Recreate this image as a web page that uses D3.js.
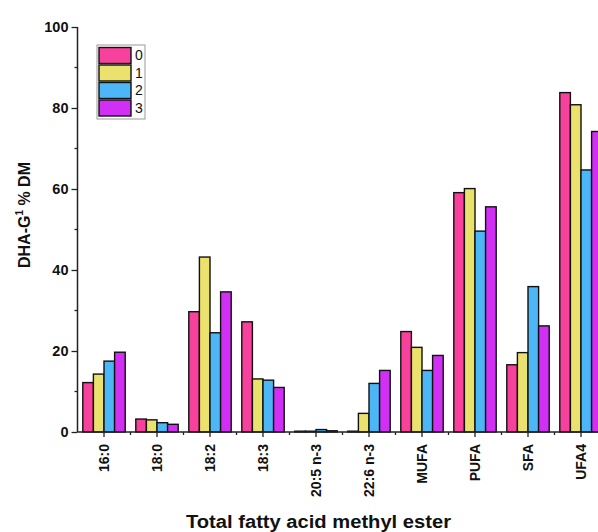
<!DOCTYPE html>
<html>
<head>
<meta charset="utf-8">
<script src="https://cdn.jsdelivr.net/npm/d3@7"></script>
<style>
  body { margin: 0; background: #fff; }
  svg { display: block; font-family: Arial, "Liberation Sans", sans-serif; }
</style>
</head>
<body>
<div id="chart"></div>
<script>
const categories = ['16:0', '18:0', '18:2', '18:3', '20:5 n-3', '22:6 n-3', 'MUFA', 'PUFA', 'SFA', 'UFA4'];
const seriesNames = ['0', '1', '2', '3'];
const series0 = [12.2, 3.2, 29.7, 27.2, 0.2, 0.2, 24.8, 59.1, 16.6, 83.8];
const series1 = [14.3, 3.0, 43.2, 13.1, 0.2, 4.6, 20.9, 60.1, 19.6, 80.8];
const series2 = [17.5, 2.3, 24.5, 12.8, 0.6, 12.0, 15.2, 49.6, 35.9, 64.7];
const series3 = [19.7, 1.9, 34.6, 11.0, 0.3, 15.2, 18.9, 55.6, 26.2, 74.2];
const yTicks = [0, 20, 40, 60, 80, 100];
const yMinorTicks = [10, 30, 50, 70, 90];
const colors = ['#f8419c', '#ebe16d', '#4cb6f6', '#d12ff4'];

const WIDTH = 598, HEIGHT = 532;
const X0 = 77.5, STEP = 53, Y0 = 432, Y1 = 27;

const svg = d3.select('#chart').append('svg')
  .attr('width', WIDTH)
  .attr('height', HEIGHT);

const allSeries = [series0, series1, series2, series3];
const rows = categories.map((c, i) => ({ cat: c, vals: allSeries.map((s, k) => ({ key: seriesNames[k], v: s[i] })) }));

const x = d3.scaleBand()
  .domain(categories)
  .range([X0, X0 + STEP * categories.length])
  .paddingInner(0.2)
  .paddingOuter(0.1);

const xs = d3.scaleBand()
  .domain(seriesNames)
  .range([0, x.bandwidth()]);

const y = d3.scaleLinear().domain([0, 100]).range([Y0, Y1]);

const color = d3.scaleOrdinal().domain(seriesNames).range(colors);

// bars
svg.append('g').selectAll('g')
  .data(rows)
  .join('g')
    .attr('transform', d => `translate(${x(d.cat)},0)`)
  .selectAll('rect')
  .data(d => d.vals)
  .join('rect')
    .attr('x', d => xs(d.key))
    .attr('y', d => y(d.v))
    .attr('width', xs.bandwidth())
    .attr('height', d => y(0) - y(d.v))
    .attr('fill', d => color(d.key))
    .attr('stroke', '#111')
    .attr('stroke-width', 1.4);

// y axis
const yAxis = svg.append('g')
  .attr('transform', `translate(${X0},0)`)
  .call(d3.axisLeft(y).tickValues(yTicks).tickSize(6).tickPadding(3));
yAxis.select('.domain').attr('d', `M0,${Y1}V${Y0}`).attr('stroke-width', 1.5).attr('stroke', '#222');
yAxis.selectAll('.tick line').attr('stroke-width', 1.3).attr('stroke', '#222');
yAxis.selectAll('.tick text')
  .attr('font-size', 14.5).attr('font-weight', 'bold').attr('fill', '#111')
  .attr('font-family', 'Arial, "Liberation Sans", sans-serif');

svg.append('g').selectAll('line')
  .data(yMinorTicks)
  .join('line')
    .attr('x1', X0 - 3).attr('x2', X0)
    .attr('y1', d => y(d)).attr('y2', d => y(d))
    .attr('stroke', '#222').attr('stroke-width', 1.3);

// x axis
const xAxis = svg.append('g')
  .attr('transform', `translate(0,${Y0})`)
  .call(d3.axisBottom(x).tickSize(5).tickPadding(4));
xAxis.select('.domain').attr('d', `M${X0},0H${X0 + STEP * categories.length}`).attr('stroke-width', 1.5).attr('stroke', '#222');
xAxis.selectAll('.tick line').attr('stroke-width', 1.3).attr('stroke', '#222');
xAxis.selectAll('.tick text')
  .attr('font-size', 14).attr('font-weight', 'bold').attr('fill', '#111')
  .attr('font-family', 'Arial, "Liberation Sans", sans-serif')
  .attr('transform', 'rotate(-90)')
  .attr('text-anchor', 'end')
  .attr('x', -12)
  .attr('y', 0)
  .attr('dy', '0.38em');

svg.append('g').selectAll('line')
  .data(categories.slice(1))
  .join('line')
    .attr('x1', d => x(d) - x.step() * x.paddingInner() / 2)
    .attr('x2', d => x(d) - x.step() * x.paddingInner() / 2)
    .attr('y1', Y0).attr('y2', Y0 + 3)
    .attr('stroke', '#222').attr('stroke-width', 1.3);

// axis titles
svg.append('text')
  .attr('transform', 'translate(30,215) rotate(-90)')
  .attr('text-anchor', 'middle')
  .attr('font-size', 16)
  .attr('font-weight', 'bold')
  .attr('fill', '#111')
  .call(t => {
    t.append('tspan').text('DHA-G');
    t.append('tspan').attr('font-size', 10).attr('dy', -7).text('1');
    t.append('tspan').attr('dy', 7).text(' % DM');
  });

svg.append('text')
  .attr('x', 186)
  .attr('y', 528)
  .attr('font-size', 17.5)
  .attr('font-weight', 'bold')
  .attr('fill', '#111')
  .attr('textLength', 265)
  .attr('lengthAdjust', 'spacingAndGlyphs')
  .text('Total fatty acid methyl ester');

// legend
const legend = svg.append('g').attr('transform', 'translate(97,45)');
legend.append('rect')
  .attr('x', 0).attr('y', 0).attr('width', 48).attr('height', 74)
  .attr('fill', '#fff').attr('stroke', '#999').attr('stroke-width', 1);
const item = legend.selectAll('g.item')
  .data(seriesNames)
  .join('g')
    .attr('class', 'item')
    .attr('transform', (d, i) => `translate(2,${2.5 + i * 17.5})`);
item.append('rect')
  .attr('width', 32).attr('height', 16)
  .attr('fill', d => color(d))
  .attr('stroke', '#111').attr('stroke-width', 1.4);
item.append('text')
  .attr('x', 36).attr('y', 8).attr('dy', '0.35em')
  .attr('font-size', 14)
  .attr('fill', '#111')
  .text(d => d);
</script>
</body>
</html>
